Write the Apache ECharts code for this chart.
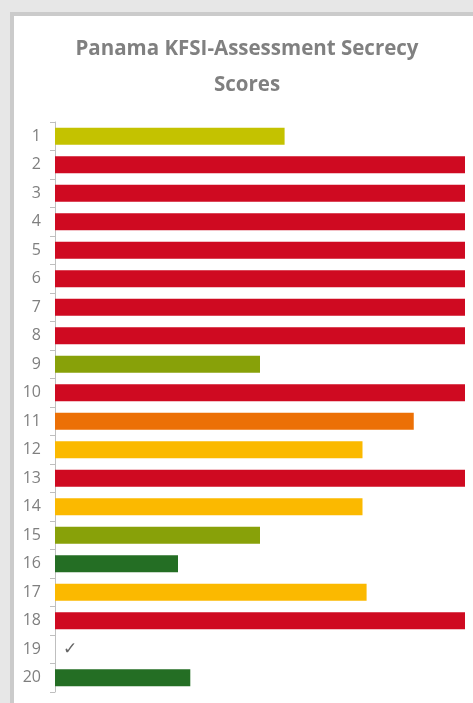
<!DOCTYPE html>
<html>
<head>
<meta charset="utf-8">
<script src="https://cdn.jsdelivr.net/npm/echarts@6/dist/echarts.min.js"></script>
<style>
  html, body { margin: 0; padding: 0; background: #e7e7e7; }
  #frame {
    position: absolute; left: 10px; top: 12px; width: 463px; height: 691px;
    background: #ffffff; border-left: 4px solid #cbcbcb; border-top: 4px solid #cbcbcb;
    box-sizing: border-box;
  }
  #chart { position: absolute; left: 0; top: 0; width: 473px; height: 703px; }
</style>
</head>
<body>
<div id="frame"></div>
<div id="chart"></div>
<script>
// question numbers (top to bottom)
var categories = ['1', '2', '3', '4', '5', '6', '7', '8', '9', '10',
  '11', '12', '13', '14', '15', '16', '17', '18', '19', '20']
// secrecy score per question (0-100), 19 is shown as a tick mark
var scores = [56, 100, 100, 100, 100, 100, 100, 100, 50, 100,
  87.5, 75, 100, 75, 50, 30, 76, 100, 0, 33]
var tickMarked = ['19']

function scoreColor(v) {
  if (v < 40) return '#246e24'
  if (v <= 50) return '#88a109'
  if (v < 60) return '#c4c200'
  if (v < 80) return '#fbb900'
  if (v < 95) return '#ec7006'
  return '#cf0a21'
}

var chart = echarts.init(document.getElementById('chart'))
var option = {
  backgroundColor: 'transparent',
  animation: false,
  title: {
    text: 'Panama KFSI-Assessment Secrecy\nScores',
    left: 242,
    top: 26,
    textAlign: 'center',
    textStyle: {
      fontFamily: 'Open Sans',
      fontWeight: 'bold',
      fontSize: 20.5,
      lineHeight: 36,
      color: '#808080',
      align: 'center'
    }
  },
  grid: {
    left: 55,
    right: 8,
    top: 122,
    bottom: 11
  },
  xAxis: {
    type: 'value',
    min: 0,
    max: 100,
    show: false
  },
  yAxis: {
    type: 'category',
    inverse: true,
    data: categories,
    axisLine: { lineStyle: { color: '#bfbfbf', width: 1 } },
    axisTick: { show: true, length: 5, lineStyle: { color: '#bfbfbf' } },
    axisLabel: {
      margin: 14,
      fontFamily: 'Open Sans',
      fontSize: 16,
      color: '#7f7f7f'
    },
    splitLine: { show: false }
  },
  series: [
    {
      type: 'bar',
      barCategoryGap: '40%',
      data: scores.map(function (v, i) {
        var item = { value: v, itemStyle: { color: scoreColor(v) } }
        if (tickMarked.indexOf(categories[i]) >= 0) {
          item.label = {
            show: true,
            position: 'right',
            distance: 8,
            formatter: '✓',
            fontFamily: 'DejaVu Sans',
            fontSize: 17,
            color: '#666666'
          }
        }
        return item
      })
    }
  ]
}
chart.setOption(option)
</script>
</body>
</html>
